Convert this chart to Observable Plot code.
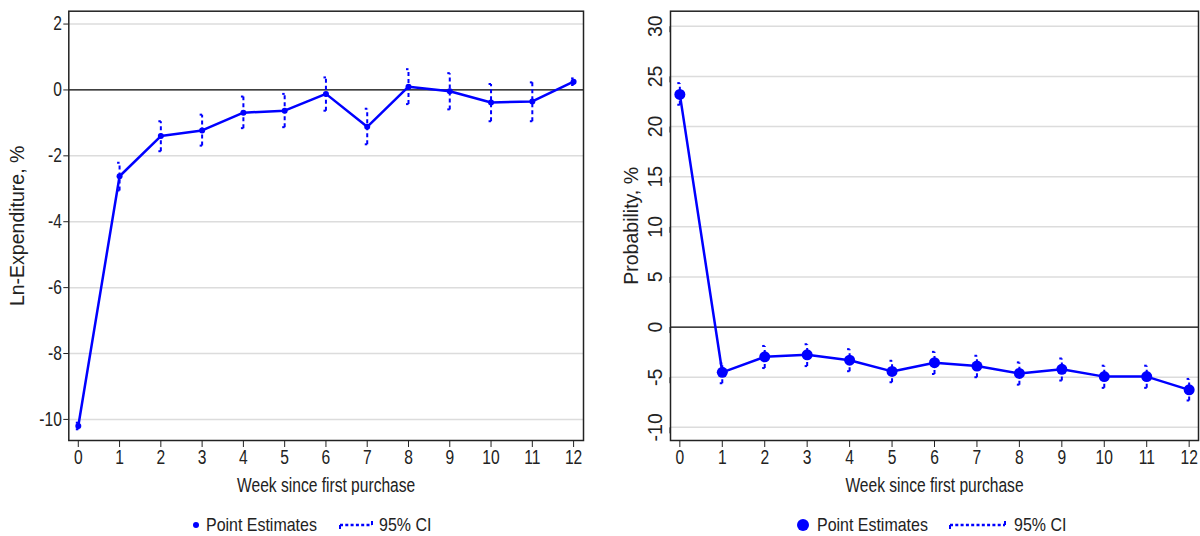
<!DOCTYPE html>
<html>
<head>
<meta charset="utf-8">
<script src="https://cdn.jsdelivr.net/npm/d3@7"></script>
<script src="https://cdn.jsdelivr.net/npm/@observablehq/plot@0.6"></script>
<style>
  body { margin: 0; background: #fff; }
  #wrap { position: relative; width: 1200px; height: 536px; font-family: 'Liberation Sans', Arial, sans-serif; color: #222; }
  .panel { position: absolute; top: 0; width: 600px; }
  .lg { position: absolute; top: 513px; height: 24px; line-height: 24px; font-size: 19px; white-space: nowrap; }
  .lgt { display: inline-block; transform: scaleX(0.84); transform-origin: left center; }
  .lg svg { display: block; }
</style>
</head>
<body>
<div id="wrap">
  <div class="panel" id="left" style="left:0"></div>
  <div class="panel" id="right" style="left:600px"></div>
</div>
<script>
// ---- data ----
const weeks = [0,1,2,3,4,5,6,7,8,9,10,11,12];
const weekTicks = [0,1,2,3,4,5,6,7,8,9,10,11,12];

const expEst = [-10.2,-2.62,-1.40,-1.23,-0.69,-0.63,-0.12,-1.12,0.10,-0.04,-0.38,-0.35,0.25];
const expLo  = [-10.3,-3.05,-1.86,-1.69,-1.16,-1.13,-0.63,-1.65,-0.43,-0.59,-0.95,-0.95,0.15];
const expHi  = [-10.1,-2.21,-0.95,-0.75,-0.20,-0.12,0.38,-0.57,0.63,0.51,0.18,0.23,0.35];
const expYTicks = [2,0,-2,-4,-6,-8,-10];

const probEst = [23.2,-4.51,-2.97,-2.77,-3.30,-4.42,-3.55,-3.89,-4.62,-4.21,-4.94,-4.94,-6.26];
const probLo  = [22.17,-5.6,-4.09,-3.89,-4.4,-5.5,-4.68,-5.0,-5.74,-5.33,-6.06,-6.06,-7.32];
const probHi  = [24.33,-3.62,-1.88,-1.71,-2.2,-3.36,-2.47,-2.86,-3.52,-3.13,-3.85,-3.85,-5.17];
const probYTicks = [30,25,20,15,10,5,0,-5,-10];

const xLabel = "Week since first purchase";
const legendLabels = ["Point Estimates", "95% CI"];
const blue = "#0000ff";
const fontFam = "'Liberation Sans', Arial, sans-serif";

function makePanel({est, lo, hi, yTicks, yDomain, xDomain, yLabel, marginLeft, marginRight, r, rotateY, yLabelOffset, capW}) {
  const rows = weeks.map((w, i) => ({w, est: est[i], lo: lo[i], hi: hi[i]}));
  const gridTicks = yTicks.filter(t => t !== 0);
  const yAxisOpts = rotateY
    ? {ticks: yTicks, tickSize: 6, tickPadding: 3, rotate: -90, textAnchor: "middle", lineAnchor: "bottom", label: yLabel, labelAnchor: "center", labelArrow: "none", labelOffset: yLabelOffset, tickFormat: d => String(d)}
    : {ticks: yTicks, tickSize: 5, tickPadding: 2, label: yLabel, labelAnchor: "center", labelArrow: "none", labelOffset: yLabelOffset, tickFormat: d => String(d)};
  const svg = Plot.plot({
    width: 600,
    height: 495,
    marginTop: 10.7,
    marginBottom: 55,
    marginLeft,
    marginRight,
    style: {fontFamily: fontFam, fontSize: "19.5px", color: "#222", background: "transparent"},
    x: {domain: xDomain},
    y: {domain: yDomain},
    marks: [
      Plot.gridY(gridTicks, {stroke: "#dcdcdc", strokeOpacity: 1, strokeWidth: 1.5}),
      Plot.ruleY([0], {stroke: "#000", strokeWidth: 1.3}),
      Plot.axisX({ticks: weekTicks, tickSize: 7, tickPadding: 3, label: xLabel, labelAnchor: "center", labelArrow: "none", labelOffset: 51, tickFormat: d => String(d)}),
      Plot.axisY(yAxisOpts),
      // CI: dashed vertical with small caps
      Plot.link(rows, {x1: "w", x2: "w", y1: "lo", y2: "hi", stroke: blue, strokeWidth: 2, strokeDasharray: "4,3"}),
      Plot.link(rows, {x1: d => d.w - capW, x2: d => d.w, y1: "hi", y2: "hi", stroke: blue, strokeWidth: 2}),
      Plot.link(rows, {x1: d => d.w - capW, x2: d => d.w, y1: "lo", y2: "lo", stroke: blue, strokeWidth: 2}),
      Plot.line(rows, {x: "w", y: "est", stroke: blue, strokeWidth: 2.5}),
      Plot.dot(rows, {x: "w", y: "est", r, fill: blue, stroke: "none"}),
      Plot.frame({stroke: "#222", strokeWidth: 1.5})
    ]
  });
  // condense horizontal text (narrow typeface look)
  svg.querySelectorAll("text").forEach(t => {
    const tr = t.getAttribute("transform") || "";
    if (tr.includes("rotate")) return;
    const ax = parseFloat(t.getAttribute("x") || 0);
    t.setAttribute("transform", `${tr} translate(${ax},0) scale(0.8,1) translate(${-ax},0)`);
  });
  return svg;
}

document.getElementById("left").append(makePanel({
  est: expEst, lo: expLo, hi: expHi, yTicks: expYTicks,
  yDomain: [-10.64, 2.39], xDomain: [-0.23, 12.24],
  yLabel: "Ln-Expenditure, %", marginLeft: 68.3, marginRight: 17,
  r: 3, rotateY: false, yLabelOffset: 59, capW: 0.06
}));
document.getElementById("right").append(makePanel({
  est: probEst, lo: probLo, hi: probHi, yTicks: probYTicks,
  yDomain: [-11.31, 31.5], xDomain: [-0.22, 12.22],
  yLabel: "Probability, %", marginLeft: 70, marginRight: 2,
  r: 5.5, rotateY: true, yLabelOffset: 46, capW: 0.06
}));

function legend(dotX, r, textX, ciX1, ciX2, ciTextX) {
  const wrap = document.getElementById("wrap");
  const add = (html) => { const d = document.createElement("div"); d.className = "lg"; d.innerHTML = html; wrap.appendChild(d); return d; };
  const d1 = add(`<svg width="${2*r+2}" height="24"><circle cx="${r+1}" cy="12" r="${r}" fill="${blue}"/></svg>`);
  d1.style.left = (dotX - r - 1) + "px";
  const t1 = add(`<span class="lgt">${legendLabels[0]}</span>`);
  t1.style.left = textX + "px";
  const w = ciX2 - ciX1;
  const d2 = add(`<svg width="${w+4}" height="24">
      <line x1="2" y1="12" x2="${w+2}" y2="12" stroke="${blue}" stroke-width="2.6" stroke-dasharray="3,2.3"/>
      <line x1="2" y1="12" x2="2" y2="16" stroke="${blue}" stroke-width="2"/>
      <line x1="${w+2}" y1="8" x2="${w+2}" y2="12" stroke="${blue}" stroke-width="2"/>
    </svg>`);
  d2.style.left = (ciX1 - 2) + "px";
  const t2 = add(`<span class="lgt">${legendLabels[1]}</span>`);
  t2.style.left = ciTextX + "px";
}
legend(196, 3, 206, 340, 372, 379);
legend(803, 6, 817, 950, 1005, 1014);
</script>
</body>
</html>
